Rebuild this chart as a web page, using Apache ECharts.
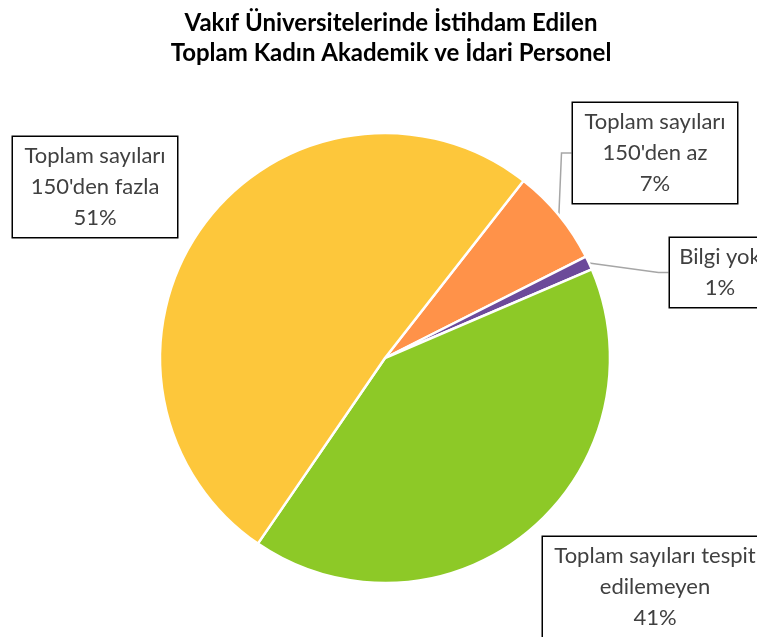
<!DOCTYPE html>
<html>
<head>
<meta charset="utf-8">
<script src="https://cdn.jsdelivr.net/npm/echarts@6/dist/echarts.min.js"></script>
<style>
  html, body { margin: 0; padding: 0; background: #ffffff; }
  #main { width: 757px; height: 637px; }
</style>
</head>
<body>
<div id="main"></div>
<script>
// data
var titleLines = ['Vakıf Üniversitelerinde İstihdam Edilen', 'Toplam Kadın Akademik ve İdari Personel'];
var categories = ["Toplam sayıları\n150'den az", 'Bilgi yok', 'Toplam sayıları tespit\nedilemeyen', "Toplam sayıları\n150'den fazla"];
var values = [7, 1, 41, 51];
var colors = ['#ff9249', '#6c4a9a', '#8dc927', '#fdc73b'];

// label box spots (center x, top y, text width) and whether a leader line shows
var labelSpots = [
  { x: 655, y: 103, w: 146, line: true },
  { x: 720, y: 238, w: 82, line: true },
  { x: 655, y: 537, w: 206, line: false },
  { x: 95, y: 137, w: 146, line: false }
];

var myChart = echarts.init(document.getElementById('main'));

var pieData = values.map(function (v, i) {
  return {
    name: categories[i],
    value: v,
    itemStyle: { color: colors[i] },
    label: { width: labelSpots[i].w },
    labelLine: { show: labelSpots[i].line }
  };
});

var option = {
  backgroundColor: '#ffffff',
  animation: false,
  title: {
    text: titleLines.join('\n'),
    left: 386,
    textAlign: 'center',
    top: 3,
    textStyle: {
      fontFamily: 'Lato',
      fontWeight: 'bold',
      fontSize: 24,
      lineHeight: 30,
      color: '#000000'
    }
  },
  series: [{
    type: 'pie',
    center: [385, 358],
    radius: 225,
    startAngle: 52,
    clockwise: true,
    data: pieData,
    itemStyle: { borderColor: '#ffffff', borderWidth: 2.5 },
    label: {
      show: true,
      position: 'outside',
      overflow: 'none',
      formatter: '{b}\n{d}%',
      fontFamily: 'Lato',
      fontSize: 22,
      lineHeight: 31,
      color: '#404040',
      align: 'center',
      backgroundColor: '#ffffff',
      borderColor: '#000000',
      borderWidth: 1.5,
      padding: [3, 9, 4, 9]
    },
    labelLine: {
      length: 10,
      length2: 10,
      lineStyle: { color: '#a6a6a6', width: 1.5 }
    },
    labelLayout: function (params) {
      var s = labelSpots[params.dataIndex];
      return { x: s.x, y: s.y, align: 'center', verticalAlign: 'top' };
    }
  }]
};

myChart.setOption(option);
</script>
</body>
</html>
